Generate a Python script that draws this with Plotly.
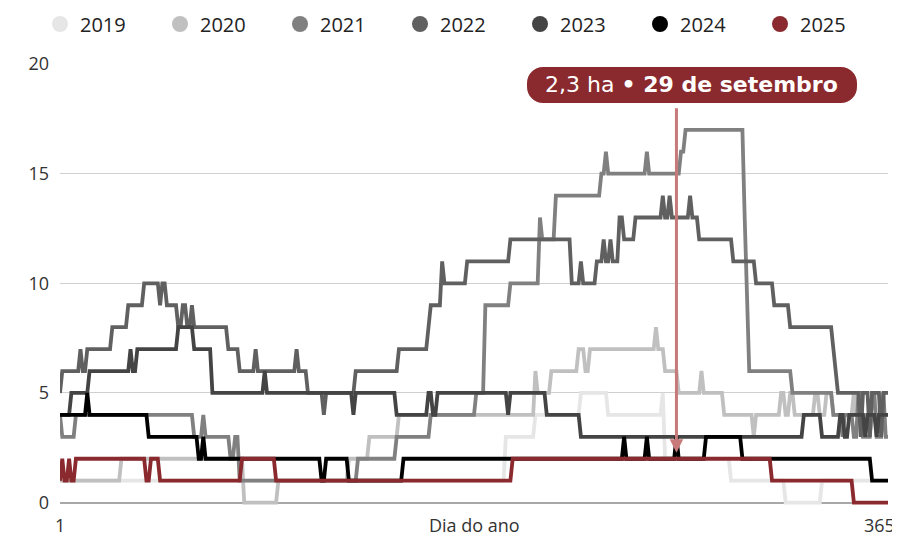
import plotly.graph_objects as go

# ---------------- data ----------------
N_DAYS = 365
YEARS = ["2019", "2020", "2021", "2022", "2023", "2024", "2025"]
COLORS = ["#e6e6e6", "#c0c0c0", "#808080", "#606060", "#444444", "#000000", "#8b2a2e"]

# day on which each new level starts, and that level
DAYS_2019 = [1, 197, 210, 230, 242, 266, 267, 296, 320, 336]
VALS_2019 = [1, 3, 4, 5, 4, 5, 2, 1, 0, 1]

DAYS_2020 = [1, 28, 82, 97, 128, 137, 150, 210, 211, 217, 229, 232, 234, 263, 264, 267, 273,
             283, 284, 293, 306, 307, 318, 320, 322, 324, 333, 335, 338, 341, 350, 351, 357,
             358, 362, 363]
VALS_2020 = [1, 2, 0, 1, 2, 3, 4, 6, 5, 6, 7, 6, 7, 8, 7, 6, 5,
             6, 5, 4, 3, 4, 5, 4, 5, 4, 5, 4, 5, 4, 5, 4, 3,
             4, 5, 4]

DAYS_2021 = [1, 2, 8, 60, 64, 65, 76, 78, 80, 132, 149, 164, 184, 188, 199, 212, 213, 219,
             239, 241, 242, 259, 260, 274, 276, 302, 303, 304, 323, 341, 345, 346, 350, 352,
             354, 358, 360, 363, 364]
VALS_2021 = [4, 3, 4, 3, 4, 3, 2, 3, 1, 2, 3, 4, 5, 9, 10, 13, 12, 14,
             15, 16, 15, 16, 15, 16, 17, 13, 10, 6, 5, 4, 3, 4, 3, 5,
             3, 5, 3, 5, 3]

DAYS_2022 = [1, 2, 10, 11, 13, 24, 31, 38, 45, 46, 48, 53, 55, 57, 59, 60, 75, 80, 87, 88,
             105, 106, 110, 117, 118, 131, 150, 163, 164, 169, 170, 180, 199, 226, 230, 231,
             237, 240, 241, 243, 244, 247, 249, 254, 266, 267, 269, 270, 278, 279, 282, 297,
             307, 315, 322, 341, 342, 343, 353, 354, 357, 358, 362, 363]
VALS_2022 = [5, 6, 7, 6, 7, 8, 9, 10, 9, 10, 9, 8, 9, 8, 9, 8, 7, 6, 7, 6,
             7, 6, 5, 4, 5, 6, 7, 8, 9, 11, 10, 11, 12, 10, 11, 10,
             11, 12, 11, 12, 11, 13, 12, 13, 14, 13, 14, 13, 14, 13, 12, 11,
             10, 9, 8, 7, 6, 5, 3, 5, 3, 5, 3, 5]

DAYS_2023 = [1, 6, 14, 32, 33, 35, 53, 60, 68, 91, 92, 130, 131, 149, 163, 165, 167, 198,
             199, 215, 230, 328, 336, 344, 346, 348, 355, 356, 360, 361]
VALS_2023 = [4, 5, 6, 7, 6, 7, 8, 7, 5, 6, 5, 4, 5, 4, 5, 4, 5, 4,
             5, 4, 3, 4, 3, 4, 3, 4, 3, 4, 3, 4]

DAYS_2024 = [1, 13, 14, 40, 62, 64, 65, 116, 118, 128, 152, 249, 250, 259, 260, 272, 273,
             285, 301, 358]
VALS_2024 = [4, 5, 4, 3, 2, 3, 2, 1, 2, 1, 2, 3, 2, 3, 2, 3, 2,
             3, 2, 1]

DAYS_2025 = [1, 2, 3, 5, 6, 8, 39, 41, 45, 81, 96, 200, 314, 350]
VALS_2025 = [1, 2, 1, 2, 1, 2, 1, 2, 1, 2, 1, 2, 1, 0]

CHANGE_DAYS = [DAYS_2019, DAYS_2020, DAYS_2021, DAYS_2022, DAYS_2023, DAYS_2024, DAYS_2025]
CHANGE_VALS = [VALS_2019, VALS_2020, VALS_2021, VALS_2022, VALS_2023, VALS_2024, VALS_2025]

ANNOT_DAY = 272      # 29 de setembro
ANNOT_VALUE = 2
ANNOT_LABEL = "2,3 ha"
ANNOT_DATE = "29 de setembro"
Y_TICKS = [0, 5, 10, 15, 20]
X_LABELS = {1: "1", 365: "365"}
X_TITLE = "Dia do ano"


def expand(days, vals):
    """Hold each read level until the next change day."""
    out = []
    j = 0
    for d in range(1, N_DAYS + 1):
        while j + 1 < len(days) and days[j + 1] <= d:
            j += 1
        out.append(vals[j])
    return out


DAY_AXIS = list(range(1, N_DAYS + 1))

# ---------------- layout geometry ----------------
# the page adds an 8px body margin, so the figure is drawn 8px smaller and
# all page-pixel positions below are shifted by that offset
OFF = 8
W, H = 900 - OFF, 538 - OFF
L, R, T, B = 60 - OFF, 12, 64 - OFF, 31
PW, PH = W - L - R, H - T - B


def pxx(px):
    return (px - OFF - L) / PW


def pxy(py):
    return (H - B - (py - OFF)) / PH


FONT = "Open Sans"

fig = go.Figure()

for year, color, days, vals in zip(YEARS, COLORS, CHANGE_DAYS, CHANGE_VALS):
    fig.add_trace(go.Scatter(
        x=DAY_AXIS, y=expand(days, vals), mode="lines",
        line=dict(color=color, width=3.8), showlegend=False, hoverinfo="skip",
    ))

for year, color in zip(YEARS, COLORS):
    fig.add_trace(go.Scatter(
        x=[None], y=[None], mode="markers", name=year,
        marker=dict(color=color, size=16, symbol="circle"),
    ))

# pill background for the callout
r = 16
hw = 165
hh = 18
k = 0.552 * r
pill = (f"M {-hw + r},{-hh} L {hw - r},{-hh} "
        f"C {hw - r + k},{-hh} {hw},{-hh + r - k} {hw},{-hh + r} "
        f"L {hw},{hh - r} "
        f"C {hw},{hh - r + k} {hw - r + k},{hh} {hw - r},{hh} "
        f"L {-hw + r},{hh} "
        f"C {-hw + r - k},{hh} {-hw},{hh - r + k} {-hw},{hh - r} "
        f"L {-hw},{-hh + r} "
        f"C {-hw},{-hh + r - k} {-hw + r - k},{-hh} {-hw + r},{-hh} Z")

fig.add_shape(type="path", xref="paper", yref="paper", xsizemode="pixel", ysizemode="pixel",
              xanchor=pxx(692), yanchor=pxy(85), path=pill,
              fillcolor="#8b2a2e", line=dict(width=0), layer="above")

annotations = [
    # arrow
    dict(x=ANNOT_DAY, y=ANNOT_VALUE, xref="x", yref="y", text="", showarrow=True,
         ax=0, ay=-352, arrowhead=2, arrowsize=0.9, arrowwidth=3, arrowcolor="#c87a7a",
         standoff=6),
    # callout text
    dict(x=pxx(691), y=pxy(85), xref="paper", yref="paper", showarrow=False,
         text=f"{ANNOT_LABEL} <b>• {ANNOT_DATE}</b>",
         font=dict(family="DejaVu Sans", size=22, color="white"),
         xanchor="center", yanchor="middle"),
    dict(x=pxx(474), y=pxy(525), xref="paper", yref="paper", showarrow=False,
         text=X_TITLE, font=dict(family=FONT, size=18, color="#333"), borderpad=0,
         xanchor="center", yanchor="middle"),
]
for day, lab in X_LABELS.items():
    shift = -9 if day == N_DAYS else 0
    annotations.append(dict(x=day, y=pxy(525), xref="x", yref="paper", showarrow=False,
                            text=lab, xshift=shift, borderpad=0,
                            font=dict(family=FONT, size=18, color="#333"),
                            xanchor="center", yanchor="middle"))

fig.update_layout(
    width=W, height=H,
    margin=dict(l=L, r=R, t=T, b=B, autoexpand=False),
    paper_bgcolor="white", plot_bgcolor="white",
    font=dict(family=FONT, color="#333"),
    showlegend=True,
    legend=dict(orientation="h", x=pxx(40), y=pxy(24), xanchor="left", yanchor="middle",
                font=dict(family=FONT, size=20, color="#222"), itemsizing="trace",
                entrywidth=75, entrywidthmode="pixels", bgcolor="rgba(0,0,0,0)",
                itemclick=False, itemdoubleclick=False),
    xaxis=dict(range=[1, N_DAYS], showgrid=False, zeroline=False, showticklabels=False,
               showline=False, ticks="", fixedrange=True),
    yaxis=dict(range=[-0.2, 20], tickvals=Y_TICKS, ticktext=[str(v) for v in Y_TICKS],
               showgrid=True, gridcolor="#d0d0d0", gridwidth=1,
               zeroline=True, zerolinecolor="#a8a8a8", zerolinewidth=1.5,
               showline=False, ticks="", ticklabelstandoff=10,
               tickfont=dict(family=FONT, size=18, color="#333"), fixedrange=True),
    annotations=annotations,
)

fig.write_html("out.html")
